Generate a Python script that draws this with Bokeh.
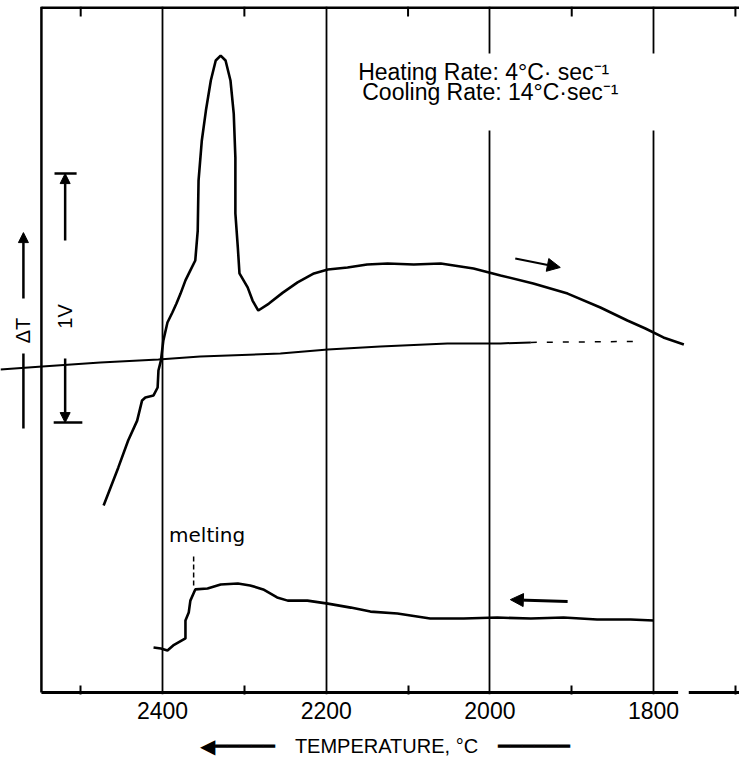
from math import pi
from bokeh.plotting import figure
from bokeh.models import Range1d, FixedTicker, Label, Arrow, NormalHead
from bokeh.embed import file_html
from bokeh.resources import INLINE

# ---------------- data (temperature in deg C, DTA signal in V) ----------------
heat_T = [2472, 2454, 2442, 2431, 2425, 2421, 2411, 2406, 2405, 2402, 2399, 2394,
          2388, 2383, 2378, 2372, 2366, 2360, 2357, 2356, 2352, 2347, 2341, 2335,
          2329, 2323, 2317, 2313, 2311, 2311, 2308, 2306, 2296, 2290, 2283, 2270,
          2253, 2235, 2215, 2198, 2174, 2150, 2125, 2093, 2060, 2044, 2020, 1987,
          1947, 1905, 1865, 1832, 1810, 1788, 1763]
heat_V = [0.751, 0.904, 1.012, 1.092, 1.173, 1.185, 1.193, 1.225, 1.293, 1.333, 1.414, 1.486,
          1.526, 1.562, 1.602, 1.655, 1.695, 1.735, 1.855, 2.056, 2.217, 2.337, 2.458, 2.538,
          2.558, 2.538, 2.458, 2.325, 2.149, 1.924, 1.787, 1.683, 1.627, 1.574, 1.534, 1.562,
          1.606, 1.647, 1.683, 1.699, 1.707, 1.719, 1.723, 1.719, 1.723, 1.715, 1.703, 1.675,
          1.643, 1.602, 1.546, 1.494, 1.462, 1.426, 1.398]

base_T = [2598, 2547, 2476, 2405, 2354, 2256, 2198, 2134, 2052, 1987, 1950]
base_V = [1.297, 1.309, 1.325, 1.337, 1.349, 1.361, 1.378, 1.390, 1.402, 1.402, 1.406]
base_dash_T = [1950, 1825]
base_dash_V = [1.406, 1.410]

cool_T = [2411, 2402, 2394, 2387, 2372, 2372, 2368, 2366, 2360, 2345, 2329, 2308,
          2293, 2277, 2260, 2247, 2223, 2198, 2170, 2146, 2113, 2073, 2032, 1991,
          1950, 1910, 1869, 1828, 1800]
cool_V = [0.181, 0.177, 0.169, 0.189, 0.217, 0.289, 0.321, 0.369, 0.414, 0.418, 0.434, 0.438,
          0.430, 0.414, 0.382, 0.369, 0.369, 0.357, 0.341, 0.325, 0.317, 0.297, 0.297, 0.301,
          0.297, 0.301, 0.293, 0.293, 0.289]

grid_ticks = [2400, 2200, 2000, 1800]
minor_ticks = [2500, 2300, 2100, 1900, 1700]
tick_labels = ["2400", "2200", "2000", "1800"]

# ---------------- layout constants ----------------
X0, X1 = 2598, 1695        # visible temperature span (reversed axis)
Y0, Y1 = -0.008, 2.755     # visible signal span (V)
T_FRAME = 2548             # left border of the chart paper
FONT = "Liberation Sans"

p = figure(width=739, height=763, x_range=Range1d(X0, X1), y_range=Range1d(Y0, Y1),
           output_backend="svg", toolbar_location=None, y_axis_type=None,
           min_border_left=0, min_border_right=0, min_border_top=6, min_border_bottom=69)
p.outline_line_color = None
p.background_fill_color = "white"
p.border_fill_color = "white"

ax = p.xaxis[0]
ax.ticker = FixedTicker(ticks=grid_ticks, minor_ticks=minor_ticks)
ax.major_label_overrides = {t: s for t, s in zip(grid_ticks, tick_labels)}
ax.axis_line_color = None
ax.major_tick_line_color = None
ax.minor_tick_in = 9
ax.minor_tick_out = 0
ax.minor_tick_line_width = 2
ax.minor_tick_line_color = "black"
ax.major_label_standoff = 1
ax.major_label_text_font = FONT
ax.major_label_text_font_size = "23px"
ax.major_label_text_color = "black"
ax.axis_label = ("\u2003\u2002\u25c0\u2501\u2501\u2501\u2501\u2501\u2003TEMPERATURE, \u00b0C\u2003"
                 "\u2501\u2501\u2501\u2501\u2501\u2501")
ax.axis_label_text_font = FONT
ax.axis_label_text_font_size = "20px"
ax.axis_label_text_font_style = "normal"
ax.axis_label_text_color = "black"
ax.axis_label_standoff = 13

p.xgrid.grid_line_color = "black"
p.xgrid.grid_line_width = 1.8

# chart paper borders
p.segment(x0=[T_FRAME], y0=[0], x1=[T_FRAME], y1=[Y1], line_color="black", line_width=2.5)
p.segment(x0=[T_FRAME], y0=[Y1], x1=[X1], y1=[Y1], line_color="black", line_width=5)
p.segment(x0=[T_FRAME, 1757], y0=[0, 0], x1=[1770, X1], y1=[0, 0], line_color="black", line_width=3)
p.segment(x0=minor_ticks, y0=[Y1] * len(minor_ticks), x1=minor_ticks,
          y1=[Y1 - 0.04] * len(minor_ticks), line_color="black", line_width=2)

# white area behind the rate annotation
p.quad(left=[2182], right=[1782], top=[2.566], bottom=[2.257], fill_color="white", line_color=None)

# curves
p.line(base_T, base_V, line_color="black", line_width=2)
p.line(base_dash_T, base_dash_V, line_color="black", line_width=1.5, line_dash="6 10")
p.line(heat_T, heat_V, line_color="black", line_width=2.6)
p.line(cool_T, cool_V, line_color="black", line_width=2.6)

# direction arrows
p.add_layout(Arrow(end=NormalHead(size=13, fill_color="black", line_color="black"),
                   x_start=1969, y_start=1.743, x_end=1914, y_end=1.707,
                   line_color="black", line_width=2.2))
p.add_layout(Arrow(end=NormalHead(size=13, fill_color="black", line_color="black"),
                   x_start=1905, y_start=0.365, x_end=1975, y_end=0.373,
                   line_color="black", line_width=3))

# melting marker
p.segment(x0=[2362], y0=[0.430], x1=[2362], y1=[0.558], line_color="black",
          line_width=1.5, line_dash="5 3")
p.add_layout(Label(x=2392, y=0.632, text="melting", text_font="DejaVu Sans",
                   text_font_size="20px", text_color="black", text_baseline="alphabetic"))

# rate annotation
p.add_layout(Label(x=2161, y=2.49, text="Heating Rate: 4\u00b0C\u00b7 sec\u207b\u00b9",
                   text_font=FONT, text_font_size="23px", text_color="black",
                   text_baseline="alphabetic"))
p.add_layout(Label(x=2156, y=2.413, text="Cooling Rate: 14\u00b0C\u00b7sec\u207b\u00b9",
                   text_font=FONT, text_font_size="23px", text_color="black",
                   text_baseline="alphabetic"))

# left-hand Delta T and 1 V scale marks
p.add_layout(Arrow(end=NormalHead(size=10, fill_color="black", line_color="black"),
                   x_start=2570, y_start=1.582, x_end=2570, y_end=1.847,
                   line_color="black", line_width=2.5))
p.segment(x0=[2570], y0=[1.060], x1=[2570], y1=[1.361], line_color="black", line_width=2.5)
p.add_layout(Label(x=2570, y=1.454, text="\u0394T", angle=pi / 2, text_align="center",
                   text_baseline="middle", text_font=FONT, text_font_size="20px",
                   text_color="black"))
p.add_layout(Arrow(end=NormalHead(size=10, fill_color="black", line_color="black"),
                   x_start=2519, y_start=1.815, x_end=2519, y_end=2.084,
                   line_color="black", line_width=2.5))
p.add_layout(Arrow(end=NormalHead(size=10, fill_color="black", line_color="black"),
                   x_start=2519, y_start=1.341, x_end=2519, y_end=1.084,
                   line_color="black", line_width=2.5))
p.segment(x0=[2532, 2533], y0=[2.084, 1.084], x1=[2505, 2498], y1=[2.084, 1.084],
          line_color="black", line_width=2.5)
p.add_layout(Label(x=2519, y=1.510, text="1V", angle=pi / 2, text_align="center",
                   text_baseline="middle", text_font=FONT, text_font_size="20px",
                   text_color="black"))

open("out.html", "w").write(file_html(p, INLINE))
